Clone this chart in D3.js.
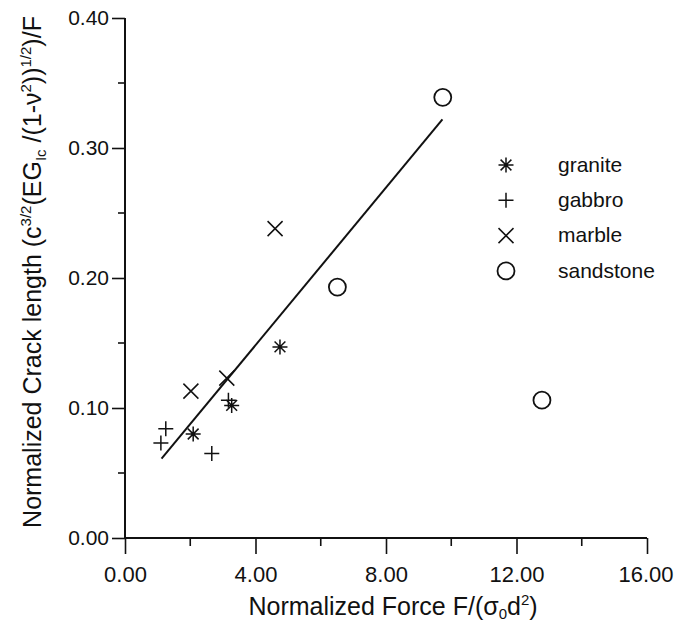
<!DOCTYPE html>
<html>
<head>
<script src="https://d3js.org/d3.v7.min.js"></script>
<style>
body { margin: 0; background: #fff; }
text { font-family: "Liberation Sans", Arial, sans-serif; fill: #111; }
</style>
</head>
<body>
<svg width="675" height="622"></svg>
<script>

// values
const graniteX = [4.75, 3.27, 2.09];
const graniteY = [0.147, 0.102, 0.080];
const gabbroX = [3.17, 1.25, 1.10, 2.66];
const gabbroY = [0.106, 0.084, 0.073, 0.065];
const marbleX = [3.12, 2.02, 4.60];
const marbleY = [0.123, 0.113, 0.238];
const sandstoneX = [9.74, 6.51, 12.78];
const sandstoneY = [0.339, 0.193, 0.106];
const fitX = [1.12, 9.73];
const fitY = [0.061, 0.322];

const xTicks = [0, 4, 8, 12, 16];
const xMinor = [2, 6, 10, 14];
const yTicks = [0, 0.1, 0.2, 0.3, 0.4];
const yMinor = [0.05, 0.15, 0.25, 0.35];
const legendNames = ["granite", "gabbro", "marble", "sandstone"];

var svg = d3.select("svg");

var x = d3.scaleLinear().domain([0, 16]).range([125, 647]);
var y = d3.scaleLinear().domain([0, 0.4]).range([538, 18]);

// axes
var xAxis = svg.append("g").attr("transform", "translate(0," + y(0) + ")");
xAxis.call(d3.axisBottom(x).tickValues(xTicks).tickSize(16).tickPadding(12)
    .tickFormat(d3.format(".2f")));
xAxis.append("g").selectAll("line").data(xMinor).enter().append("line")
    .attr("x1", x).attr("x2", x).attr("y1", 0).attr("y2", 8)
    .attr("stroke", "#111").attr("stroke-width", 1.6);

var yAxis = svg.append("g").attr("transform", "translate(" + x(0) + ",0)");
yAxis.call(d3.axisLeft(y).tickValues(yTicks).tickSize(13).tickPadding(3)
    .tickFormat(d3.format(".2f")));
yAxis.append("g").selectAll("line").data(yMinor).enter().append("line")
    .attr("y1", y).attr("y2", y).attr("x1", 0).attr("x2", -7)
    .attr("stroke", "#111").attr("stroke-width", 1.6);

svg.selectAll(".domain").attr("stroke", "#111").attr("stroke-width", 2);
svg.selectAll(".tick line").attr("stroke", "#111").attr("stroke-width", 1.6);
svg.selectAll(".tick text")
    .attr("font-family", "Liberation Sans, Arial, sans-serif").attr("fill", "#111");
xAxis.selectAll(".tick text").attr("font-size", 22);
// last label sits against the right edge
xAxis.selectAll(".tick text").filter(function(d) { return d === 16; })
    .attr("text-anchor", "end").attr("x", 26);
yAxis.selectAll(".tick text").attr("font-size", 21);
// no outer ticks on domain
xAxis.select(".domain").attr("d", "M" + x(0) + ",0H" + x(16));
yAxis.select(".domain").attr("d", "M0," + y(0) + "V" + y(0.4));

// axis titles
var xt = svg.append("text")
    .attr("x", 393).attr("y", 615)
    .attr("text-anchor", "middle").attr("font-size", 25);
xt.append("tspan").text("Normalized Force F/(\u03c3");
xt.append("tspan").text("0").attr("font-size", 15).attr("dy", 4);
xt.append("tspan").text("d").attr("dy", -4);
xt.append("tspan").text("2").attr("font-size", 15).attr("dy", -10);
xt.append("tspan").text(")").attr("dy", 10);

var yt = svg.append("text")
    .attr("transform", "translate(41,272) rotate(-90)")
    .attr("text-anchor", "middle").attr("font-size", 25);
yt.append("tspan").text("Normalized Crack length (c");
yt.append("tspan").text("3/2").attr("font-size", 15).attr("dy", -10);
yt.append("tspan").text("(EG").attr("dy", 10);
yt.append("tspan").text("Ic").attr("font-size", 15).attr("dy", 5);
yt.append("tspan").text(" /(1-\u03bd").attr("dy", -5);
yt.append("tspan").text("2").attr("font-size", 15).attr("dy", -10);
yt.append("tspan").text("))").attr("dy", 10);
yt.append("tspan").text("1/2").attr("font-size", 15).attr("dy", -10);
yt.append("tspan").text(")/F").attr("dy", 10);

// marker shapes
var s = 7.5;
function plusPath() { return "M" + (-s) + ",0H" + s + "M0," + (-s) + "V" + s; }
function crossPath() { return "M" + (-s) + "," + (-s) + "L" + s + "," + s + "M" + (-s) + "," + s + "L" + s + "," + (-s); }
function starPath() {
  var a = s * 0.72;
  return "M0," + (-s) + "V" + s + "M" + (-s) + ",0H" + s +
    "M" + (-a) + "," + (-a) + "L" + a + "," + a + "M" + (-a) + "," + a + "L" + a + "," + (-a);
}

function drawMarker(g, kind) {
  if (kind === "sandstone") {
    g.append("circle").attr("r", 8.5).attr("fill", "none")
      .attr("stroke", "#111").attr("stroke-width", 1.8);
  } else {
    var p = kind === "granite" ? starPath() : kind === "gabbro" ? plusPath() : crossPath();
    g.append("path").attr("d", p).attr("fill", "none")
      .attr("stroke", "#111").attr("stroke-width", 1.5);
  }
}

function plotSeries(kind, xs, ys) {
  xs.forEach(function(v, i) {
    var g = svg.append("g").attr("transform", "translate(" + x(v) + "," + y(ys[i]) + ")");
    drawMarker(g, kind);
  });
}

// regression line
svg.append("line")
    .attr("x1", x(fitX[0])).attr("y1", y(fitY[0]))
    .attr("x2", x(fitX[1])).attr("y2", y(fitY[1]))
    .attr("stroke", "#111").attr("stroke-width", 2);

plotSeries("granite", graniteX, graniteY);
plotSeries("gabbro", gabbroX, gabbroY);
plotSeries("marble", marbleX, marbleY);
plotSeries("sandstone", sandstoneX, sandstoneY);

// legend
var legend = svg.selectAll(".legend").data(legendNames).enter().append("g")
    .attr("class", "legend")
    .attr("transform", function(d, i) { return "translate(506," + (165 + i * 35.3) + ")"; });
legend.each(function(d) { drawMarker(d3.select(this), d); });
legend.append("text").attr("x", 52).attr("y", 0).attr("dy", "0.32em")
    .attr("font-size", 21).text(function(d) { return d; });

</script>
</body>
</html>
